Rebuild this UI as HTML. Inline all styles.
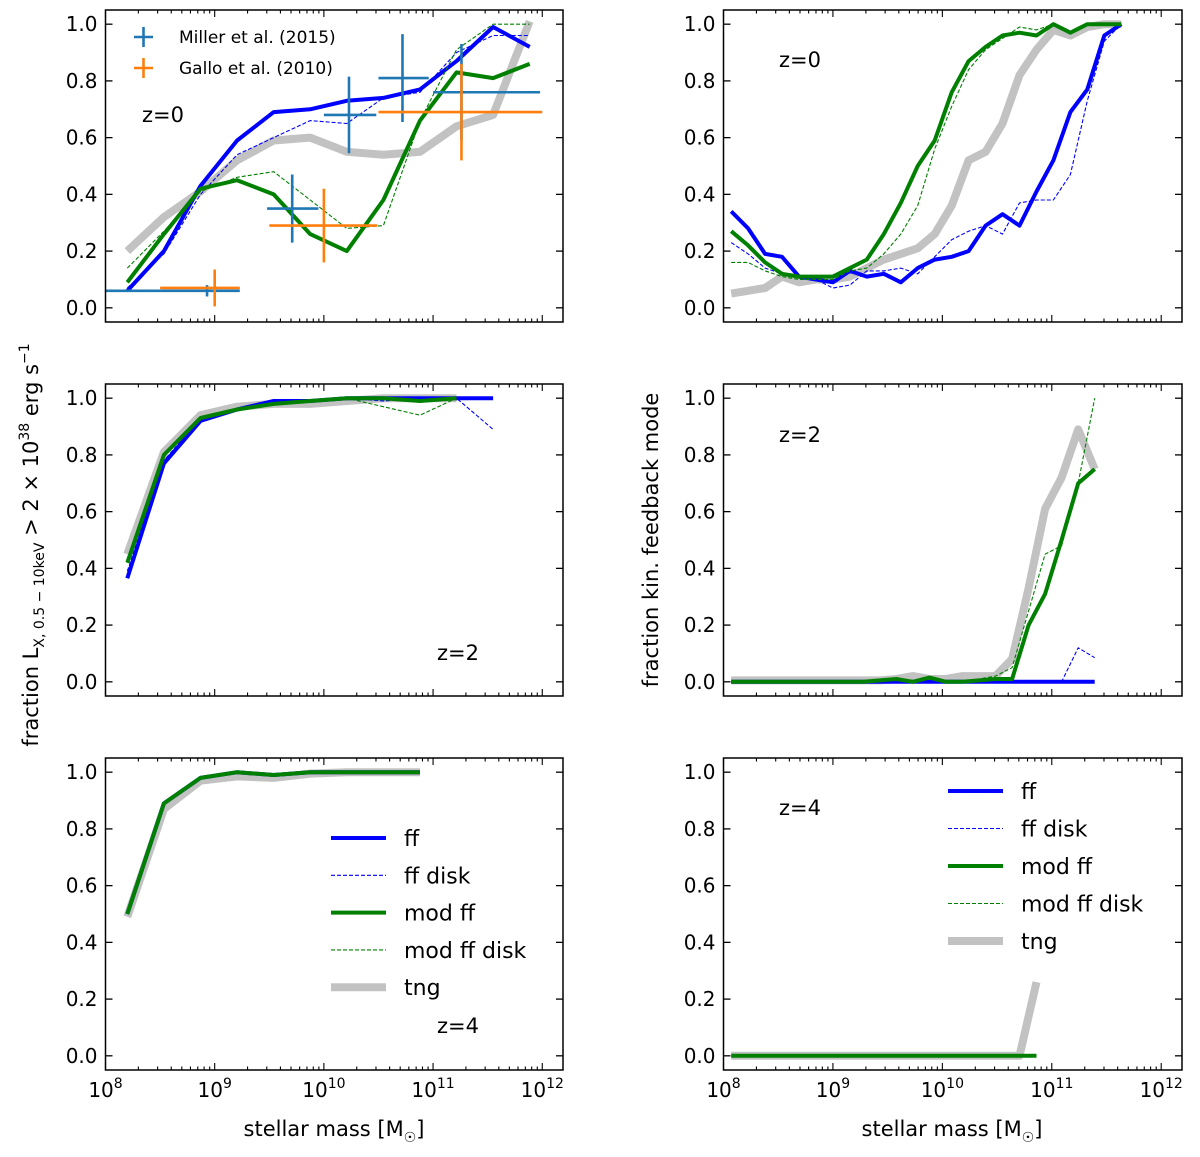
<!DOCTYPE html>
<html><head><meta charset="utf-8"><style>
body{margin:0;background:#fff}
svg{display:block;font-family:"DejaVu Sans","Liberation Sans",sans-serif}
</style></head><body>
<svg id="chart" width="1200" height="1157" viewBox="0 0 1200 1157" xmlns="http://www.w3.org/2000/svg">
<text transform="translate(38,545) rotate(-90)" text-anchor="middle" font-size="21">fraction L<tspan font-size="14" dy="6">X, 0.5 − 10keV</tspan><tspan dy="-6"> &gt; 2 × 10</tspan><tspan font-size="14" dy="-9">38</tspan><tspan dy="9"> erg s</tspan><tspan font-size="14" dy="-9">−1</tspan></text>
<text transform="translate(658,540) rotate(-90)" text-anchor="middle" font-size="21">fraction kin. feedback mode</text>
<text x="334" y="1136" text-anchor="middle" font-size="21">stellar mass [M<tspan font-size="14" dy="6">☉</tspan><tspan dy="-6">]</tspan></text>
<text x="952" y="1136" text-anchor="middle" font-size="21">stellar mass [M<tspan font-size="14" dy="6">☉</tspan><tspan dy="-6">]</tspan></text>
</svg>
<script>
// ---- data ----
const xL = [8.2,8.535,8.87,9.205,9.54,9.875,10.21,10.545,10.88,11.215,11.55,11.885];
const xR0 = [8.07,8.225,8.38,8.535,8.69,8.845,9.0,9.155,9.31,9.465,9.62,9.775,9.93,10.085,10.24,10.395,10.55,10.705,10.86,11.015,11.17,11.325,11.48,11.635];
const xR2 = [8.07,8.221,8.372,8.523,8.674,8.825,8.976,9.127,9.278,9.429,9.58,9.731,9.882,10.033,10.184,10.335,10.486,10.637,10.788,10.939,11.09,11.241,11.392];
const xR4 = [8.07,8.225,8.38,8.535,8.69,8.845,9.0,9.155,9.31,9.465,9.62,9.775,9.93,10.085,10.24,10.395,10.55,10.705,10.86];

const z0L_ff = [0.06,0.20,0.43,0.59,0.69,0.70,0.73,0.74,0.77,0.87,0.99,0.92];
const z0L_ffd = [0.07,0.19,0.40,0.54,0.60,0.66,0.65,0.74,0.76,0.90,0.96,0.96];
const z0L_mod = [0.09,0.26,0.42,0.45,0.40,0.26,0.20,0.38,0.66,0.83,0.81,0.86];
const z0L_modd = [0.14,0.27,0.41,0.46,0.48,0.38,0.28,0.29,0.66,0.91,1.0,1.0];
const z0L_tng = [0.20,0.32,0.41,0.52,0.59,0.60,0.55,0.54,0.55,0.64,0.68,1.01];

const millerX = [8.93,9.71,10.23,10.72,11.26];
const millerXlo = [8.0,9.48,10.0,10.5,11.0];
const millerXhi = [9.23,9.95,10.48,10.96,11.98];
const millerY = [0.06,0.35,0.68,0.81,0.76];
const millerYerr = [0.02,0.12,0.135,0.155,0.17];
const galloX = [9.0,10.0,11.26];
const galloXlo = [8.5,9.5,10.5];
const galloXhi = [9.23,10.49,12.0];
const galloY = [0.07,0.29,0.69];
const galloYerr = [0.065,0.13,0.17];

const z0R_ff = [0.34,0.28,0.19,0.18,0.11,0.10,0.09,0.13,0.11,0.12,0.09,0.14,0.17,0.18,0.20,0.29,0.33,0.29,0.41,0.52,0.69,0.77,0.96,1.0];
const z0R_ffd = [0.23,0.19,0.14,0.12,0.11,0.10,0.07,0.08,0.13,0.13,0.14,0.12,0.18,0.24,0.27,0.29,0.26,0.37,0.38,0.38,0.47,0.73,0.94,1.0];
const z0R_mod = [0.27,0.22,0.16,0.12,0.11,0.11,0.11,0.14,0.17,0.26,0.37,0.50,0.59,0.76,0.87,0.92,0.96,0.97,0.96,1.0,0.97,1.0,1.0,1.0];
const z0R_modd = [0.16,0.16,0.13,0.11,0.10,0.10,0.10,0.13,0.14,0.19,0.26,0.36,0.56,0.71,0.84,0.91,0.95,0.99,0.98,1.0,0.97,1.0,1.0,1.0];
const z0R_tng = [0.05,0.06,0.07,0.11,0.09,0.10,0.10,0.11,0.14,0.17,0.19,0.21,0.26,0.36,0.52,0.55,0.65,0.82,0.91,0.98,0.96,0.99,1.0,1.0];

const z2L_ff = [0.365,0.77,0.92,0.96,0.99,0.99,1.0,1.0,1.0,1.0,1.0];
const z2L_ffd = [0.39,0.78,0.93,0.96,0.98,0.99,1.0,0.99,1.0,1.0,0.89];
const z2L_mod = [0.42,0.80,0.93,0.96,0.98,0.99,1.0,1.0,0.99,1.0];
const z2L_modd = [0.42,0.80,0.93,0.96,0.98,0.99,1.0,0.97,0.94,1.0];
const z2L_tng = [0.45,0.81,0.94,0.97,0.98,0.98,0.99,1.0,1.0,1.0];

const z2R_ff = [0,0,0,0,0,0,0,0,0,0,0,0,0,0,0,0,0,0,0,0,0,0,0];
const z2R_ffd = [0,0,0,0,0,0,0,0,0,0,0,0,0,0,0,0,0,0,0,0,0,0.12,0.085];
const z2R_mod = [0,0,0,0,0,0,0,0,0,0.005,0.01,0.0,0.015,0,0,0.005,0.01,0.01,0.20,0.31,0.50,0.70,0.75];
const z2R_modd = [0,0,0,0,0,0,0,0,0,0.005,0.01,0.0,0.01,0,0,0.01,0.02,0.05,0.25,0.45,0.48,0.70,1.0];
const z2R_tng = [0.005,0.005,0.005,0.005,0.005,0.005,0.005,0.005,0.005,0.005,0.01,0.02,0.01,0.01,0.02,0.02,0.02,0.08,0.33,0.61,0.72,0.89,0.75];

const z4L_ff = [0.50,0.89,0.98,1.0,0.99,1.0,1.0,1.0,1.0];
const z4L_mod = [0.50,0.89,0.98,1.0,0.99,1.0,1.0,1.0,1.0];
const z4L_tng = [0.49,0.87,0.97,0.985,0.98,0.995,1.0,1.0,1.0];

const z4R_mod = [0,0,0,0,0,0,0,0,0,0,0,0,0,0,0,0,0,0,0];
const z4R_tng = [0,0,0,0,0,0,0,0,0,0,0,0,0,0,0,0,0,0,0.26];

const yTicks = [0,0.2,0.4,0.6,0.8,1.0];
const yTickLabels = ["0.0","0.2","0.4","0.6","0.8","1.0"];
const xTicks = [8,9,10,11,12];

// ---- rendering ----
const NS = "http://www.w3.org/2000/svg";
const svg = document.getElementById("chart");
function mk(tag, attrs, parent){const e=document.createElementNS(NS,tag);for(const k in attrs)e.setAttribute(k,attrs[k]);(parent||svg).appendChild(e);return e;}

const panels = [
 {id:"z0-left", x0:105.5, x1:563, y0:10, y1:322},
 {id:"z0-right", x0:723.5, x1:1182, y0:10, y1:322},
 {id:"z2-left", x0:105.5, x1:563, y0:384, y1:696},
 {id:"z2-right", x0:723.5, x1:1182, y0:384, y1:696},
 {id:"z4-left", x0:105.5, x1:563, y0:758, y1:1070, xl:true},
 {id:"z4-right", x0:723.5, x1:1182, y0:758, y1:1070, xl:true}
];
panels.forEach(p=>{
  p.sx = v => p.x0 + (v-8)/(12.19-8)*(p.x1-p.x0);
  p.sy = v => p.y1 - (v+0.05)/1.1*(p.y1-p.y0);
});

function axes(p){
  const g = mk("g",{});
  
  
  yTicks.forEach((t,i)=>{
    const y=p.sy(t);
    mk("line",{x1:p.x0,x2:p.x0+7,y1:y,y2:y,stroke:"#000","stroke-width":1.3},g);
    mk("line",{x1:p.x1,x2:p.x1-7,y1:y,y2:y,stroke:"#000","stroke-width":1.3},g);
    const tx=mk("text",{x:p.x0-8,y:y+7,"text-anchor":"end","font-size":20},g);
    tx.textContent=yTickLabels[i];
    
    
  });
  for(let d=8; d<12.2; d++){
    for(let m=1;m<10;m++){
      const v=d+Math.log10(m); if(v>12.19) break;
      const x=p.sx(v), L=m===1?7:3.5;
      mk("line",{x1:x,x2:x,y1:p.y1,y2:p.y1-L,stroke:"#000","stroke-width":1.1},g);
      mk("line",{x1:x,x2:x,y1:p.y0,y2:p.y0+L,stroke:"#000","stroke-width":1.1},g);
    }
  }
  if(p.xl){
    xTicks.forEach(t=>{
      const tx=mk("text",{x:p.sx(t),y:p.y1+27,"text-anchor":"middle","font-size":20},g);
      tx.innerHTML='10<tspan font-size="14" dy="-9">'+t+'</tspan>';
      
      
    });
  }
  mk("rect",{x:p.x0,y:p.y0,width:p.x1-p.x0,height:p.y1-p.y0,fill:"none",stroke:"#000","stroke-width":1.5},g);
}

function series(p, xs, ys, style, name){
  const pts = ys.map((v,i)=>p.sx(xs[i]).toFixed(1)+","+p.sy(v).toFixed(1)).join(" ");
  const e = mk("polyline",Object.assign({points:pts,fill:"none","stroke-linejoin":"round"},style));
  
  
}
const S = {
 tng:{stroke:"#bfbfbf","stroke-width":8,"stroke-opacity":0.95},
 ff:{stroke:"#0000ff","stroke-width":4},
 ffd:{stroke:"#0000ff","stroke-width":1.1,"stroke-dasharray":"4,2"},
 mod:{stroke:"#008000","stroke-width":4},
 modd:{stroke:"#008000","stroke-width":1.1,"stroke-dasharray":"4,2"}
};
function label(x,y,t,name){const e=mk("text",{x:x,y:y,"font-size":21,"text-anchor":"middle"});e.textContent=t;}

let p=panels[0];
series(p,xL,z0L_tng,S.tng,"tng-z0-line");
series(p,xL,z0L_ff,S.ff,"ff-z0-line");
series(p,xL,z0L_ffd,S.ffd,"ff-disk-z0-line");
series(p,xL,z0L_mod,S.mod,"mod-ff-z0-line");
series(p,xL,z0L_modd,S.modd,"mod-ff-disk-z0-line");
function errbars(xs,lo,hi,ys,ye,color,name){
  xs.forEach((x,i)=>{
    const g=mk("g",{stroke:color,"stroke-width":2.6});
    
    
    mk("line",{x1:p.sx(lo[i]),x2:p.sx(hi[i]),y1:p.sy(ys[i]),y2:p.sy(ys[i])},g);
    mk("line",{x1:p.sx(x),x2:p.sx(x),y1:p.sy(ys[i]-ye[i]),y2:p.sy(ys[i]+ye[i])},g);
  });
}
errbars(millerX,millerXlo,millerXhi,millerY,millerYerr,"#1f77b4","miller-2015-point");
errbars(galloX,galloXlo,galloXhi,galloY,galloYerr,"#ff7f0e","gallo-2010-point");
label(163,122,"z=0","z0-label-left");

p=panels[1];
series(p,xR0,z0R_tng,S.tng,"tng-z0-kin-line");
series(p,xR0,z0R_ff,S.ff,"ff-z0-kin-line");
series(p,xR0,z0R_ffd,S.ffd,"ff-disk-z0-kin-line");
series(p,xR0,z0R_mod,S.mod,"mod-ff-z0-kin-line");
series(p,xR0,z0R_modd,S.modd,"mod-ff-disk-z0-kin-line");
label(800,67,"z=0","z0-label-right");

p=panels[2];
series(p,xL.slice(0,z2L_tng.length),z2L_tng,S.tng,"tng-z2-line");
series(p,xL,z2L_ff,S.ff,"ff-z2-line");
series(p,xL,z2L_ffd,S.ffd,"ff-disk-z2-line");
series(p,xL,z2L_mod,S.mod,"mod-ff-z2-line");
series(p,xL,z2L_modd,S.modd,"mod-ff-disk-z2-line");
label(458,660,"z=2","z2-label-left");

p=panels[3];
series(p,xR2,z2R_tng,S.tng,"tng-z2-kin-line");
series(p,xR2,z2R_ff,S.ff,"ff-z2-kin-line");
series(p,xR2,z2R_ffd,S.ffd,"ff-disk-z2-kin-line");
series(p,xR2,z2R_mod,S.mod,"mod-ff-z2-kin-line");
series(p,xR2,z2R_modd,S.modd,"mod-ff-disk-z2-kin-line");
label(800,442,"z=2","z2-label-right");

p=panels[4];
series(p,xL,z4L_tng,S.tng,"tng-z4-line");
series(p,xL,z4L_ff,S.ff,"ff-z4-line");
series(p,xL,z4L_mod,S.mod,"mod-ff-z4-line");
label(458,1033,"z=4","z4-label-left");

p=panels[5];
series(p,xR4,z4R_tng,S.tng,"tng-z4-kin-line");
series(p,xR4,z4R_mod,S.mod,"ff-z4-kin-line");
label(800,815,"z=4","z4-label-right");

panels.forEach(axes);

function legend(lx,ly0,dy,fs,name){
  const g=mk("g",{});  
  const items=[["ff",S.ff],["ff disk",S.ffd],["mod ff",S.mod],["mod ff disk",S.modd],["tng",S.tng]];
  items.forEach((it,i)=>{
    const y=ly0+i*dy;
    const st=Object.assign({x1:lx,x2:lx+55,y1:y,y2:y},it[1]);
    const l=mk("line",st,g);
    
    
    const t=mk("text",{x:lx+73,y:y+8,"font-size":fs},g); t.textContent=it[0];
    
    
  });
}
legend(331,838,37.3,22,"legend-left");
legend(948,791,37.5,22,"legend-right");

const dl=mk("g",{});  
[["Miller et al. (2015)","#1f77b4",37],["Gallo et al. (2010)","#ff7f0e",68]].forEach(d=>{
  mk("line",{x1:134,x2:153,y1:d[2],y2:d[2],stroke:d[1],"stroke-width":2.6},dl);
  mk("line",{x1:143.5,x2:143.5,y1:d[2]-10,y2:d[2]+10,stroke:d[1],"stroke-width":2.6},dl);
  const t=mk("text",{x:179,y:d[2]+6,"font-size":17},dl); t.textContent=d[0];
  
  
});
</script>
</body></html>
